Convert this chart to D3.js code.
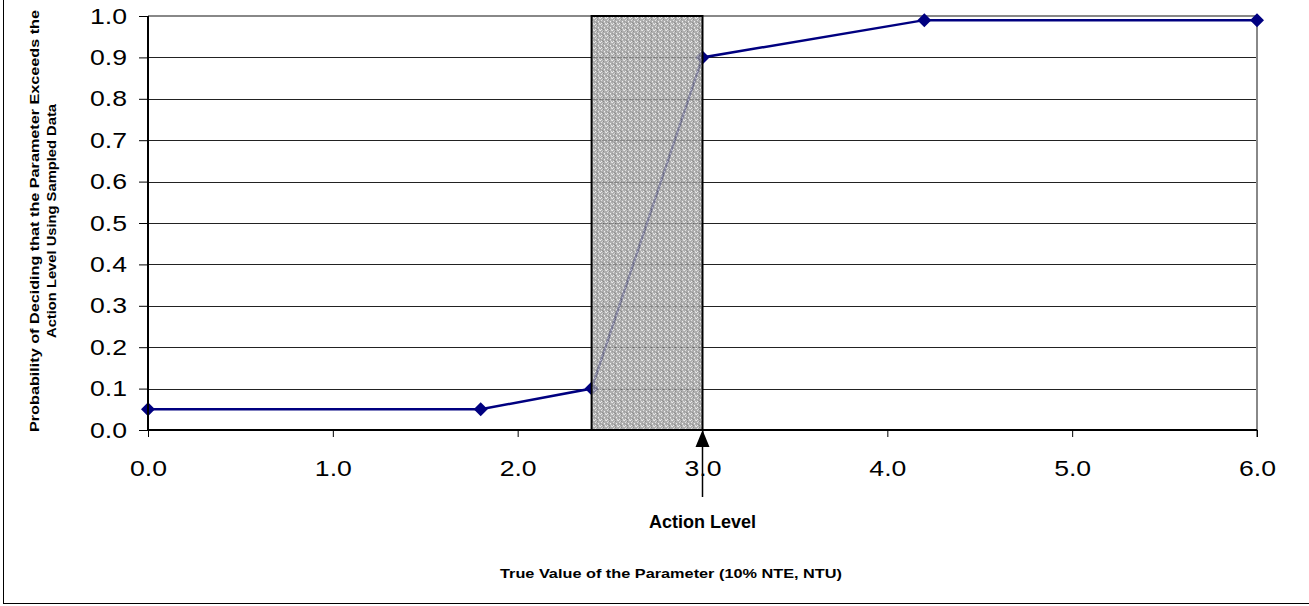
<!DOCTYPE html>
<html>
<head>
<meta charset="utf-8">
<script src="https://cdn.jsdelivr.net/npm/d3@7"></script>
<style>
  body { margin: 0; background: #fff; }
  svg { display: block; font-family: Arial, "Liberation Sans", sans-serif; }
</style>
</head>
<body>
<div id="chart-area"></div>
<script>
// data
var xValues = [0.0, 1.8, 2.4, 3.0, 4.2, 6.0];
var yValues = [0.05, 0.05, 0.10, 0.90, 0.99, 0.99];
var xTicks = [0, 1, 2, 3, 4, 5, 6];
var yTicks = [0, 0.1, 0.2, 0.3, 0.4, 0.5, 0.6, 0.7, 0.8, 0.9, 1.0];
var grayRegion = [2.4, 3.0];
var actionLevel = [3.0];

var width = 1309,
    height = 606;

var x = d3.scaleLinear().domain([0, 6]).range([148, 1257]);
var y = d3.scaleLinear().domain([0, 1]).range([430, 16]);

var svg = d3.select("#chart-area")
  .append("svg")
    .attr("width", width)
    .attr("height", height);

// stipple pattern for the gray region
var defs = svg.append("defs");
var pat = defs.append("pattern")
    .attr("id", "stipple")
    .attr("patternUnits", "userSpaceOnUse")
    .attr("width", 6)
    .attr("height", 6);
pat.append("rect").attr("width", 6).attr("height", 6).attr("fill", "#9e9e9e");
var dots = [[0,0,"#e4e4e4"],[3,1,"#747474"],[1,2,"#dcdcdc"],[4,3,"#eeeeee"],[2,4,"#7a7a7a"],[5,5,"#d4d4d4"],
            [0,3,"#868686"],[5,0,"#d0d0d0"],[3,5,"#707070"],[1,5,"#e8e8e8"],[2,1,"#c8c8c8"],[4,4,"#bcbcbc"]];
pat.selectAll("rect.d").data(dots).enter().append("rect")
    .attr("class", "d")
    .attr("x", function(d) { return d[0]; })
    .attr("y", function(d) { return d[1]; })
    .attr("width", 1).attr("height", 1)
    .attr("fill", function(d) { return d[2]; });

// outer border
svg.append("rect")
    .attr("x", 3.5).attr("y", -5)
    .attr("width", 1320).attr("height", 608.5)
    .attr("fill", "none")
    .attr("stroke", "#000")
    .attr("stroke-width", 1);

// horizontal gridlines
svg.append("g")
  .selectAll("line")
  .data(yTicks.slice(1, -1))
  .enter().append("line")
    .attr("x1", x(0)).attr("x2", x(6))
    .attr("y1", function(d) { return Math.round(y(d)) + 0.5; })
    .attr("y2", function(d) { return Math.round(y(d)) + 0.5; })
    .attr("stroke", "#222")
    .attr("stroke-width", 1);

// top and right frame (gray)
svg.append("line")
    .attr("x1", x(0)).attr("x2", x(6))
    .attr("y1", y(1)).attr("y2", y(1))
    .attr("stroke", "#888").attr("stroke-width", 2);
svg.append("line")
    .attr("x1", x(6)).attr("x2", x(6))
    .attr("y1", y(1)).attr("y2", y(0) + 7)
    .attr("stroke", "#888").attr("stroke-width", 2);

// data line + markers
var line = d3.line()
    .x(function(d, i) { return x(xValues[i]); })
    .y(function(d, i) { return y(yValues[i]); });

svg.append("path")
    .attr("d", line(xValues))
    .attr("fill", "none")
    .attr("stroke", "#000080")
    .attr("stroke-width", 2.5);

var diamond = d3.symbol().type(d3.symbolDiamond2).size(125);
svg.selectAll(".pt")
  .data(xValues)
  .enter().append("path")
    .attr("class", "pt")
    .attr("d", diamond)
    .attr("transform", function(d, i) { return "translate(" + x(d) + "," + y(yValues[i]) + ")"; })
    .attr("fill", "#000080");

// shaded gray region
svg.append("rect")
    .attr("x", x(grayRegion[0]))
    .attr("y", y(1))
    .attr("width", x(grayRegion[1]) - x(grayRegion[0]))
    .attr("height", y(0) - y(1))
    .attr("fill", "url(#stipple)")
    .attr("fill-opacity", 0.82)
    .attr("stroke", "#000")
    .attr("stroke-width", 2);

// axes
var yAxis = svg.append("g")
    .attr("transform", "translate(" + x(0) + ",0)")
    .call(d3.axisLeft(y).tickValues(yTicks).tickSize(9).tickPadding(12)
      .tickFormat(d3.format(".1f")));
var xAxis = svg.append("g")
    .attr("transform", "translate(0," + y(0) + ")")
    .call(d3.axisBottom(x).tickValues(xTicks).tickSize(7).tickPadding(23)
      .tickFormat(d3.format(".1f")));

[yAxis, xAxis].forEach(function(a) {
  a.select(".domain").attr("stroke", "#000").attr("stroke-width", 2);
  a.selectAll(".tick line").attr("stroke", "#000").attr("stroke-width", 1);
  a.selectAll("text")
    .attr("font-size", 22)
    .attr("font-family", "Arial, 'Liberation Sans', sans-serif")
    .attr("fill", "#000")
    .attr("textLength", 37)
    .attr("lengthAdjust", "spacingAndGlyphs");
});
yAxis.select(".domain").attr("d", "M0," + y(0) + "V" + y(1));
xAxis.select(".domain").attr("d", "M" + x(0) + ",0H" + x(6));

// action level arrow
var ax = x(actionLevel[0]);
svg.append("line")
    .attr("x1", ax).attr("x2", ax)
    .attr("y1", y(0) + 12).attr("y2", 497)
    .attr("stroke", "#000").attr("stroke-width", 1.5);
svg.append("path")
    .attr("d", "M" + ax + "," + y(0) + "L" + (ax - 7) + "," + (y(0) + 17) + "L" + (ax + 7) + "," + (y(0) + 17) + "Z")
    .attr("fill", "#000");
svg.append("text")
    .attr("x", ax).attr("y", 528)
    .attr("text-anchor", "middle")
    .attr("font-size", 18).attr("font-weight", "bold")
    .text("Action Level");

// axis titles
svg.append("text")
    .attr("x", 671).attr("y", 578)
    .attr("text-anchor", "middle")
    .attr("font-size", 13).attr("font-weight", "bold")
    .attr("textLength", 342)
    .attr("lengthAdjust", "spacingAndGlyphs")
    .text("True Value of the Parameter (10% NTE, NTU)");

var yt = svg.append("text")
    .attr("transform", "translate(39,221) rotate(-90)")
    .attr("text-anchor", "middle")
    .attr("font-size", 13.5).attr("font-weight", "bold");
yt.append("tspan").attr("x", 0).attr("dy", 0)
    .attr("textLength", 422)
    .attr("lengthAdjust", "spacingAndGlyphs")
    .text("Probability of Deciding that the Parameter Exceeds the");
yt.append("tspan").attr("x", 0).attr("dy", 17)
    .attr("textLength", 234)
    .attr("lengthAdjust", "spacingAndGlyphs")
    .text("Action Level Using Sampled Data");
</script>
</body>
</html>
